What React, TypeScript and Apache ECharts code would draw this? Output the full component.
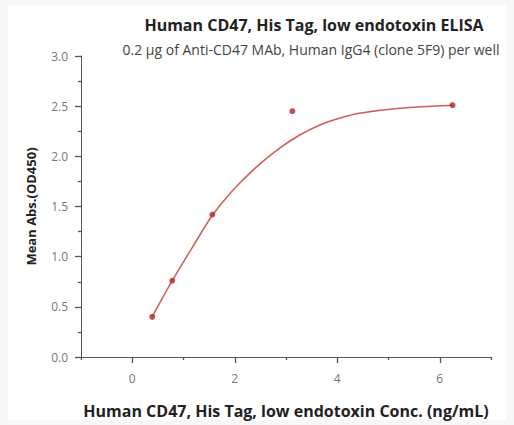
import React, { useEffect, useRef } from "react";
import * as echarts from "echarts";

const titleText = "Human CD47, His Tag, low endotoxin ELISA";
const subtitleText = "0.2 μg of Anti-CD47 MAb, Human IgG4 (clone 5F9) per well";
const xAxisName = "Human CD47, His Tag, low endotoxin Conc. (ng/mL)";
const yAxisName = "Mean Abs.(OD450)";

const concentrations = [0.39, 0.78, 1.5625, 3.125, 6.25];
const meanAbs = [0.4, 0.76, 1.42, 2.45, 2.51];

const curveX = [0.39, 0.78, 1.17, 1.56, 1.89, 2.09, 2.48, 2.87, 3.26, 3.65, 4.04, 4.43, 5.22, 6.25];
const curveY = [0.4, 0.76, 1.09, 1.41, 1.62, 1.73, 1.92, 2.08, 2.21, 2.31, 2.38, 2.43, 2.48, 2.51];

const xMajorTicks = [0, 2, 4, 6];
const xMinorTicks = [-1, 1, 3, 5, 7];
const yMajorTicks = [0, 0.5, 1, 1.5, 2, 2.5, 3];
const yMinorTicks = [0.25, 0.75, 1.25, 1.75, 2.25, 2.75];

export default function App() {
  const ref = useRef<HTMLDivElement>(null);
  useEffect(() => {
    if (!ref.current) return;
    const chart = echarts.init(ref.current, undefined, { renderer: "svg" });
    const font = "'Open Sans', 'Noto Sans', sans-serif";
    const axisColor = "#555";
    const tickStyle = { color: "#555", width: 1.3 };
    const labelColor = "#777";
    chart.setOption({
      animation: false,
      backgroundColor: "#f7f7f7",
      textStyle: { fontFamily: font },
      graphic: [
        {
          type: "rect",
          z: -100,
          silent: true,
          shape: { x: 8, y: 5, width: 498, height: 415 },
          style: { fill: "#ffffff" },
        },
      ],
      title: [
        {
          text: titleText,
          left: 309,
          top: 12,
          textAlign: "center",
          textStyle: { fontFamily: font, fontSize: 16, fontWeight: "bold", color: "#222" },
        },
        {
          text: subtitleText,
          left: 306,
          top: 37,
          textAlign: "center",
          textStyle: { fontFamily: font, fontSize: 14, fontWeight: "normal", color: "#444" },
        },
      ],
      grid: { left: 81, right: 23, top: 56, bottom: 68 },
      xAxis: [
        {
          type: "value",
          min: -1,
          max: 7,
          name: xAxisName,
          nameLocation: "middle",
          nameGap: 46,
          nameTextStyle: { fontFamily: font, fontSize: 16, fontWeight: "bold", color: "#222" },
          axisLine: { show: true, onZero: false, lineStyle: { color: axisColor, width: 1 } },
          axisTick: { show: true, length: 6, customValues: xMajorTicks, lineStyle: tickStyle },
          axisLabel: { customValues: xMajorTicks, margin: 15, fontSize: 12, color: labelColor },
          splitLine: { show: false },
        },
        {
          type: "value",
          min: -1,
          max: 7,
          position: "bottom",
          axisLine: { show: false, onZero: false },
          axisTick: { show: true, length: 3, customValues: xMinorTicks, lineStyle: tickStyle },
          axisLabel: { show: false },
          splitLine: { show: false },
        },
      ],
      yAxis: [
        {
          type: "value",
          min: 0,
          max: 3,
          name: yAxisName,
          nameLocation: "middle",
          nameGap: 44,
          nameTextStyle: { fontFamily: font, fontSize: 13, fontWeight: "bold", color: "#222" },
          axisLine: { show: true, onZero: false, lineStyle: { color: axisColor, width: 1 } },
          axisTick: { show: true, length: 6, customValues: yMajorTicks, lineStyle: tickStyle },
          axisLabel: {
            customValues: yMajorTicks,
            margin: 13,
            fontSize: 12,
            color: labelColor,
            formatter: (v: number) => v.toFixed(1),
          },
          splitLine: { show: false },
        },
        {
          type: "value",
          min: 0,
          max: 3,
          position: "left",
          axisLine: { show: false, onZero: false },
          axisTick: { show: true, length: 3, customValues: yMinorTicks, lineStyle: tickStyle },
          axisLabel: { show: false },
          splitLine: { show: false },
        },
      ],
      series: [
        {
          type: "line",
          smooth: 0.3,
          symbol: "none",
          data: curveX.map((x, i) => [x, curveY[i]]),
          lineStyle: { color: "#d45a5a", width: 1.5 },
          z: 2,
        },
        {
          type: "scatter",
          symbol: "circle",
          symbolSize: 6,
          data: concentrations.map((x, i) => [x, meanAbs[i]]),
          itemStyle: { color: "#b3262e" },
          z: 3,
        },
      ],
    });
    return () => chart.dispose();
  }, []);
  return (
    <div
      ref={ref}
      style={{ position: "fixed", left: 0, top: 0, width: 514, height: 425 }}
    />
  );
}
